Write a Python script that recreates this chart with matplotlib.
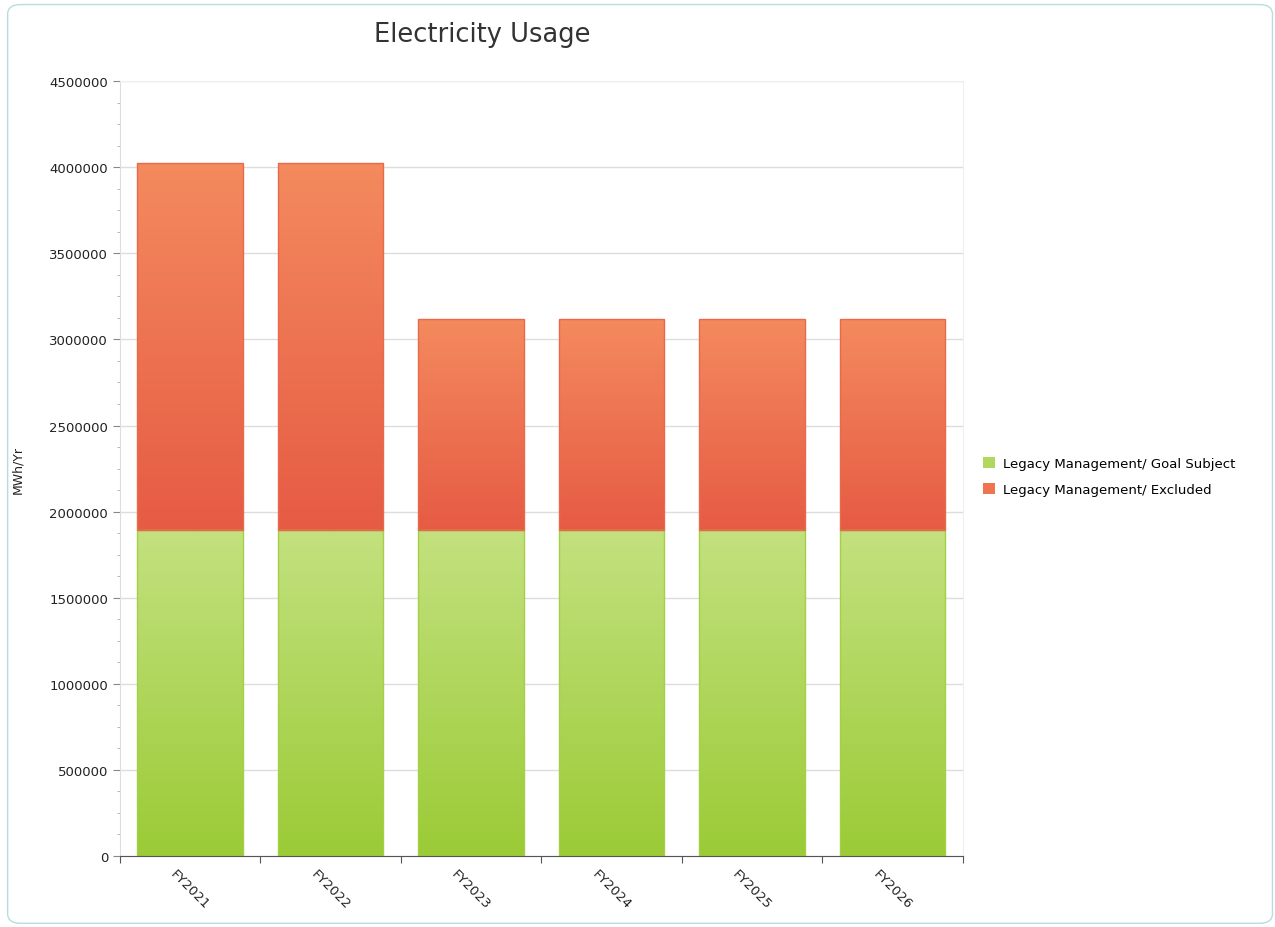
import matplotlib.pyplot as plt
import numpy as np
from matplotlib.colors import LinearSegmentedColormap
from matplotlib.patches import FancyBboxPatch

years = ["FY2021", "FY2022", "FY2023", "FY2024", "FY2025", "FY2026"]
goal_subject = [1893000, 1893000, 1893000, 1893000, 1893000, 1893000]
excluded = [2131000, 2131000, 1225000, 1225000, 1225000, 1225000]


def gradient_fill(ax, bars, top_color, bottom_color, edge):
    cmap = LinearSegmentedColormap.from_list("g", [bottom_color, top_color])
    grad = np.linspace(0, 1, 256).reshape(-1, 1)
    for b in bars:
        x0, y0 = b.get_x(), b.get_y()
        w, h = b.get_width(), b.get_height()
        im = ax.imshow(grad, cmap=cmap, aspect="auto", origin="lower",
                       extent=[x0, x0 + w, y0, y0 + h], zorder=2.1)
        im.set_clip_path(b)
        # outline on top of the gradient
        ax.add_patch(plt.Rectangle((x0, y0), w, h, fill=False, edgecolor=edge,
                                   linewidth=1, zorder=2.2))


fig = plt.figure(figsize=(12.75, 9.28), dpi=100)
ax = fig.add_axes([0.094, 0.0765, 0.661, 0.835])

x = np.arange(len(years))
b1 = ax.bar(x, goal_subject, width=0.75, color="#b0d85c", linewidth=0,
            zorder=2, label="Legacy Management/ Goal Subject")
b2 = ax.bar(x, excluded, width=0.75, bottom=goal_subject, color="#ee7550",
            linewidth=0, zorder=2, label="Legacy Management/ Excluded")
gradient_fill(ax, b1, "#c3e17f", "#9bcb36", "#a5d046")
gradient_fill(ax, b2, "#f48a5e", "#e65b44", "#e86a4c")

ax.set_xlim(-0.5, 5.5)
ax.set_ylim(0, 4500000)
ax.set_yticks(np.arange(0, 4500001, 500000))
ax.set_yticks(np.arange(0, 4500001, 125000), minor=True)
ax.set_yticklabels([str(v) for v in range(0, 4500001, 500000)], fontsize=9.5, color="#222222")
ax.set_xticks(np.arange(-0.5, 5.6, 1))
ax.set_xticklabels([])
ax.set_xticks(x, minor=True)
ax.set_xticklabels(years, minor=True, rotation=-45, ha="center", va="top", fontsize=9.5, color="#222222")
ax.tick_params(axis="x", which="minor", length=0, pad=8)
ax.tick_params(axis="x", which="major", length=5, color="#555555")
ax.tick_params(axis="y", which="major", length=5, color="#888888")
ax.tick_params(axis="y", which="minor", length=2, color="#aaaaaa")

ax.grid(axis="y", which="major", color="#dddddd", linewidth=1, zorder=0)
ax.set_axisbelow(True)
for s in ["top", "right"]:
    ax.spines[s].set_color("#eeeeee")
ax.spines["left"].set_color("#dddddd")
ax.spines["bottom"].set_color("#555555")

ax.set_ylabel("MWh/Yr", fontsize=9, color="#222222")
ax.yaxis.set_label_coords(-0.113, 0.5)

fig.text(0.378, 0.962, "Electricity Usage", fontsize=18.5, color="#333333", ha="center", va="center")

ax.legend(loc="center left", bbox_to_anchor=(1.01, 0.49), frameon=False, fontsize=9.5,
          handlelength=0.9, handleheight=0.9, handletextpad=0.6, labelspacing=1.0)

frame = FancyBboxPatch((0.006, 0.004), 0.992, 0.99, boxstyle="round,pad=0,rounding_size=0.01",
                       transform=fig.transFigure, fill=False, edgecolor="#b8dde0", linewidth=1)
fig.patches.append(frame)

plt.savefig("out.png", dpi=100)
